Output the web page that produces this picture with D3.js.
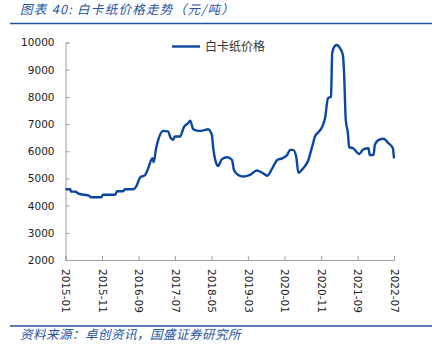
<!DOCTYPE html>
<html><head><meta charset="utf-8">
<script src="https://cdn.jsdelivr.net/npm/d3@7"></script>
<style>body{margin:0;background:#fff;} svg{display:block;}</style>
</head><body>
<svg id="c" width="432" height="357"></svg>
<script>
const title = "图表 40:  白卡纸价格走势（元/吨）";
const source = "资料来源：卓创资讯，国盛证券研究所";
const seriesName = "白卡纸价格";
const yTicks = [2000,3000,4000,5000,6000,7000,8000,9000,10000];
const xTickLabels = ["2015-01","2015-11","2016-09","2017-07","2018-05","2019-03","2020-01","2020-11","2021-09","2022-07"];
const dates = ["2015-01-01","2015-02-10","2015-02-15","2015-03-28","2015-04-15","2015-06-05","2015-07-15","2015-08-01","2015-10-25","2015-11-10",
"2016-02-20","2016-03-05","2016-04-25","2016-05-12","2016-07-15","2016-08-12","2016-09-15","2016-10-25","2016-11-20","2016-12-25",
"2017-01-05","2017-01-25","2017-02-12","2017-03-25","2017-05-05","2017-05-25","2017-06-15","2017-07-01","2017-08-12","2017-09-15",
"2017-10-18","2017-11-05","2017-12-01","2018-01-12","2018-02-25","2018-04-03","2018-05-05","2018-05-15","2018-06-10","2018-06-25",
"2018-07-28","2018-09-10","2018-10-20","2018-11-05","2018-12-10","2019-01-20","2019-03-18","2019-05-15","2019-06-28","2019-08-10",
"2019-09-20","2019-11-01","2019-12-12","2020-01-22","2020-02-15","2020-03-12","2020-04-07","2020-04-25","2020-06-03","2020-07-15",
"2020-08-18","2020-09-12","2020-10-07","2020-11-10","2020-12-03","2020-12-28","2021-01-22","2021-02-01","2021-02-25","2021-03-12",
"2021-04-07","2021-05-01","2021-05-10","2021-05-25","2021-06-12","2021-06-22","2021-07-25","2021-09-15","2021-10-18","2021-12-01",
"2021-12-10","2022-01-12","2022-01-22","2022-02-25","2022-04-07","2022-05-10","2022-06-22","2022-06-25","2022-07-01"];
const prices = [4600,4600,4520,4510,4450,4400,4370,4310,4310,4400,
4400,4530,4530,4600,4600,4700,5040,5120,5370,5740,
5600,6110,6420,6750,6730,6500,6420,6540,6540,6900,
7030,7120,6810,6750,6770,6810,6600,6170,5560,5460,
5710,5780,5680,5310,5130,5070,5130,5290,5210,5100,
5370,5680,5740,5860,6050,6050,5800,5210,5370,5650,
6170,6560,6690,6900,7210,7950,8010,9610,9880,9910,
9790,9540,8990,7150,6660,6150,6110,5900,6070,6110,
5860,5860,6230,6420,6460,6320,6110,6000,5740];

const parse = d3.timeParse("%Y-%m-%d");
const parseM = d3.timeParse("%Y-%m");
const data = dates.map((d,i)=>({date:parse(d), v:prices[i]}));

const svg = d3.select("#c");
const blue = "#2452a0";
const lineBlue = "#0b47a1";

// title
svg.append("text").attr("x",20).attr("y",14)
  .attr("font-family","'Noto Sans CJK SC'").attr("font-size",12.5)
  .attr("letter-spacing",1.3)
  .attr("font-style","italic").attr("fill",blue).text(title);
svg.append("line").attr("x1",10).attr("x2",432).attr("y1",23.5).attr("y2",23.5)
  .attr("stroke",blue).attr("stroke-width",1.5);

const x0 = 65.5, x1 = 394, y0 = 260, y1 = 42.5;
const x = d3.scaleTime().domain([parseM("2015-01"), parseM("2022-07")]).range([x0,x1]);
const y = d3.scaleLinear().domain([2000,10000]).range([y0,y1]);

// y axis
const yAxis = d3.axisLeft(y).tickValues(yTicks).tickSize(-4).tickPadding(11).tickFormat(d3.format("d"));
const gy = svg.append("g").attr("transform",`translate(${x0},0)`).call(yAxis);
gy.select(".domain").attr("stroke","#a0a0a0");
gy.selectAll(".tick line").attr("stroke","#a0a0a0");
gy.selectAll(".tick text").attr("font-family","'DejaVu Sans'").attr("font-size",10.5).attr("fill","#222");

// x axis
const xAxis = d3.axisBottom(x).tickValues(xTickLabels.map(parseM)).tickSize(-4).tickFormat(d3.timeFormat("%Y-%m"));
const gx = svg.append("g").attr("transform",`translate(0,${y0})`).call(xAxis);
gx.select(".domain").attr("stroke","#a0a0a0");
gx.selectAll(".tick line").attr("stroke","#a0a0a0");
gx.selectAll(".tick text").attr("font-family","'DejaVu Sans'").attr("font-size",10.5).attr("fill","#222")
  .attr("transform","rotate(90)").attr("text-anchor","start").attr("dy","0.35em").attr("x",9).attr("y",0);

// line
const line = d3.line().x(d=>x(d.date)).y(d=>y(d.v)).curve(d3.curveMonotoneX);
svg.append("path").datum(data).attr("d",line).attr("fill","none")
  .attr("stroke",lineBlue).attr("stroke-width",2.4).attr("stroke-linejoin","round");

// legend
svg.append("line").attr("x1",172).attr("x2",200).attr("y1",46.5).attr("y2",46.5)
  .attr("stroke",lineBlue).attr("stroke-width",2.4);
svg.append("text").attr("x",205).attr("y",51).attr("font-family","'Noto Sans CJK SC'")
  .attr("font-size",12).attr("fill","#333").text(seriesName);

// source
svg.append("line").attr("x1",10).attr("x2",432).attr("y1",326).attr("y2",326)
  .attr("stroke",blue).attr("stroke-width",1.5);
svg.append("text").attr("x",20).attr("y",339)
  .attr("font-family","'Noto Sans CJK SC'").attr("font-size",12.5)
  .attr("letter-spacing",0.5)
  .attr("font-style","italic").attr("fill",blue).text(source);
</script>
</body></html>
